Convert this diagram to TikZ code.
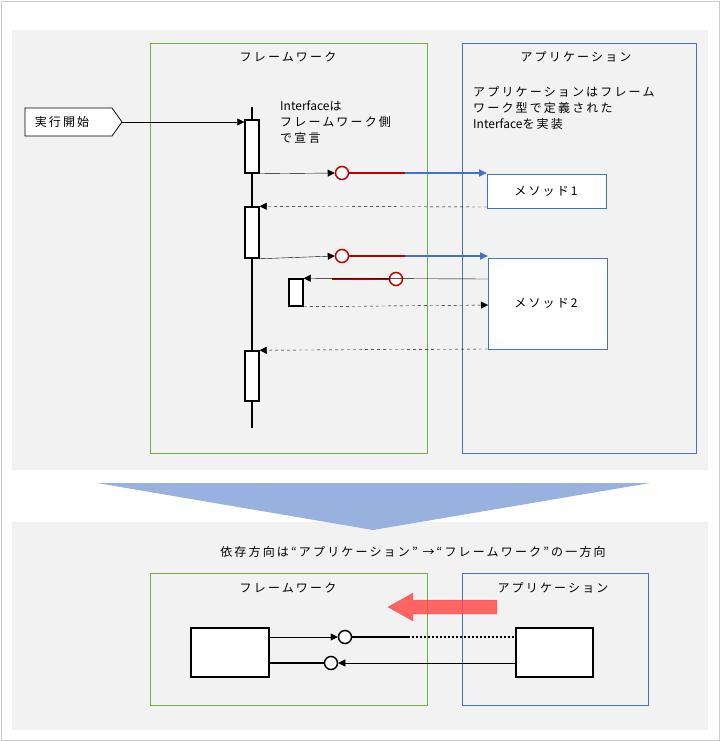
\documentclass[tikz,border=0pt]{standalone}
\usepackage{fontspec}
\setmainfont[LetterSpace=18]{Noto Sans CJK JP}
\usetikzlibrary{arrows.meta}
\definecolor{pan}{HTML}{F2F2F2}
\definecolor{gr}{HTML}{70AD47}
\definecolor{bl}{HTML}{4472C4}
\definecolor{rd}{HTML}{C00000}
\begin{document}
\begin{tikzpicture}[x=1pt,y=-1pt,font=\fontsize{12}{16}\selectfont,
  act/.style={draw,line width=1.5pt,fill=white},
  call/.style={-{Triangle[length=7pt,width=7pt]},thin},
  ret/.style={-{Triangle[length=7pt,width=7pt]},thin,dashed},
  sock/.style={circle,draw=rd,line width=1.5pt,fill=white,inner sep=0,minimum size=13pt},
  bsock/.style={circle,draw,line width=1.5pt,fill=white,inner sep=0,minimum size=13pt},
  lbl/.style={inner sep=0}]
\useasboundingbox (0,0) rectangle (720,741);
\draw[gray!40,fill=white] (1,1) rectangle (719,740);
\fill[pan] (12,30) rectangle (708,470);
\draw[gr,thick] (150,43) rectangle (427,453);
\draw[bl,thick] (462,43) rectangle (696,453);
\node[lbl] (t1) at (288,57) {フレームワーク};
\node[lbl] (t2) at (576,57) {アプリケーション};
\node[lbl,align=left,anchor=north west] (apptxt) at (473,86) {アプリケーションはフレーム\\ワーク型で定義された\\{\addfontfeature{LetterSpace=0}Interface}を実装};
\node[lbl,align=left,anchor=north west] (iftxt) at (280,101) {{\addfontfeature{LetterSpace=0}Interface}は\\フレームワーク側\\で宣言};
% start flag
\draw[thick,fill=white] (25,108) -- (112,108) -- (122,122) -- (112,136) -- (25,136) -- cycle;
\node[lbl] (start) at (62,122) {実行開始};
\coordinate (st) at (122,122);
% lifeline
\coordinate (lt) at (252,107); \coordinate (lb) at (252,428);
\draw[line width=1.5pt] (lt) -- (lb);
\node[act,minimum width=14pt,minimum height=53pt,inner sep=0] (a1) at (252,146.5) {};
\node[act,minimum width=14pt,minimum height=51pt,inner sep=0] (a2) at (252,232.5) {};
\node[act,minimum width=14pt,minimum height=50pt,inner sep=0] (a3) at (252,376) {};
\draw[call] (st) -- (a1.north west |- st);
% method boxes
\draw[bl,thick,fill=white] (487,174) rectangle (606,208);
\node[lbl] (m1) at (546,191) {メソッド1};
\draw[bl,thick,fill=white] (488,258) rectangle (607,349);
\node[lbl] (m2) at (546,303) {メソッド2};
% call 1
\node[sock] (s1) at (342,173) {};
\draw[call] (a1.south east) -- (s1.west);
\draw[rd,line width=2pt] (s1.east) -- (405,173) coordinate (r1);
\draw[bl,line width=2pt,-{Triangle[length=8pt,width=7pt]}] (r1) -- (487,173);
\draw[ret] (487,207) -- (a2.north east);
% call 2
\node[sock] (s2) at (342,256) {};
\draw[call] (a2.south east) -- (s2.west);
\draw[rd,line width=2pt] (s2.east) -- (405,256) coordinate (r2);
\draw[bl,line width=2pt,-{Triangle[length=8pt,width=7pt]}] (r2) -- (488,256);
% callback
\node[act,minimum width=14pt,minimum height=27pt,inner sep=0] (cb) at (296,292.5) {};
\node[sock] (s3) at (396,279) {};
\draw[rd,line width=2pt] (332,279) -- (s3.west);
\draw[call] (488,279) -- (cb.north east);
\draw[ret] (cb.south east) -- (488,305);
\draw[ret] (488,349) -- (a3.north east);
% bottom
\fill[pan] (12,522) rectangle (708,730);
% triangle
\fill[bl!55] (97,483) -- (650,483) -- (373,530) -- cycle;
\node[lbl] (dep) at (413,552) {依存方向は“アプリケーション” →“フレームワーク”の一方向};
\draw[gr,thick] (150,573) rectangle (427,705);
\draw[bl,thick] (462,573) rectangle (648,705);
\node[lbl] (t3) at (288,588) {フレームワーク};
\node[lbl] (t4) at (553,588) {アプリケーション};
\fill[red!70,opacity=0.85] (497,600) -- (413,600) -- (413,593) -- (388,607) -- (413,621) -- (413,614) -- (497,614) -- cycle;
\draw[red!50!black,opacity=0.3] (497,600) -- (413,600) -- (413,593) -- (388,607) -- (413,621) -- (413,614) -- (497,614) -- cycle;
\node[act,minimum width=78pt,minimum height=49pt,inner sep=0] (bl1) at (230,652.5) {};
\node[act,minimum width=77pt,minimum height=49pt,inner sep=0] (br1) at (554.5,652.5) {};
\node[bsock] (c1) at (345,637) {};
\node[bsock] (c2) at (331,663) {};
\draw[call] (bl1.east |- c1) -- (c1.west);
\draw[line width=2pt] (c1.east) -- (408,637) coordinate (d1);
\draw[line width=2pt,dotted] (d1) -- (br1.west |- c1);
\draw[line width=2pt] (bl1.east |- c2) -- (c2.west);
\draw[call] (br1.west |- c2) -- (c2.east);
\end{tikzpicture}
\end{document}
